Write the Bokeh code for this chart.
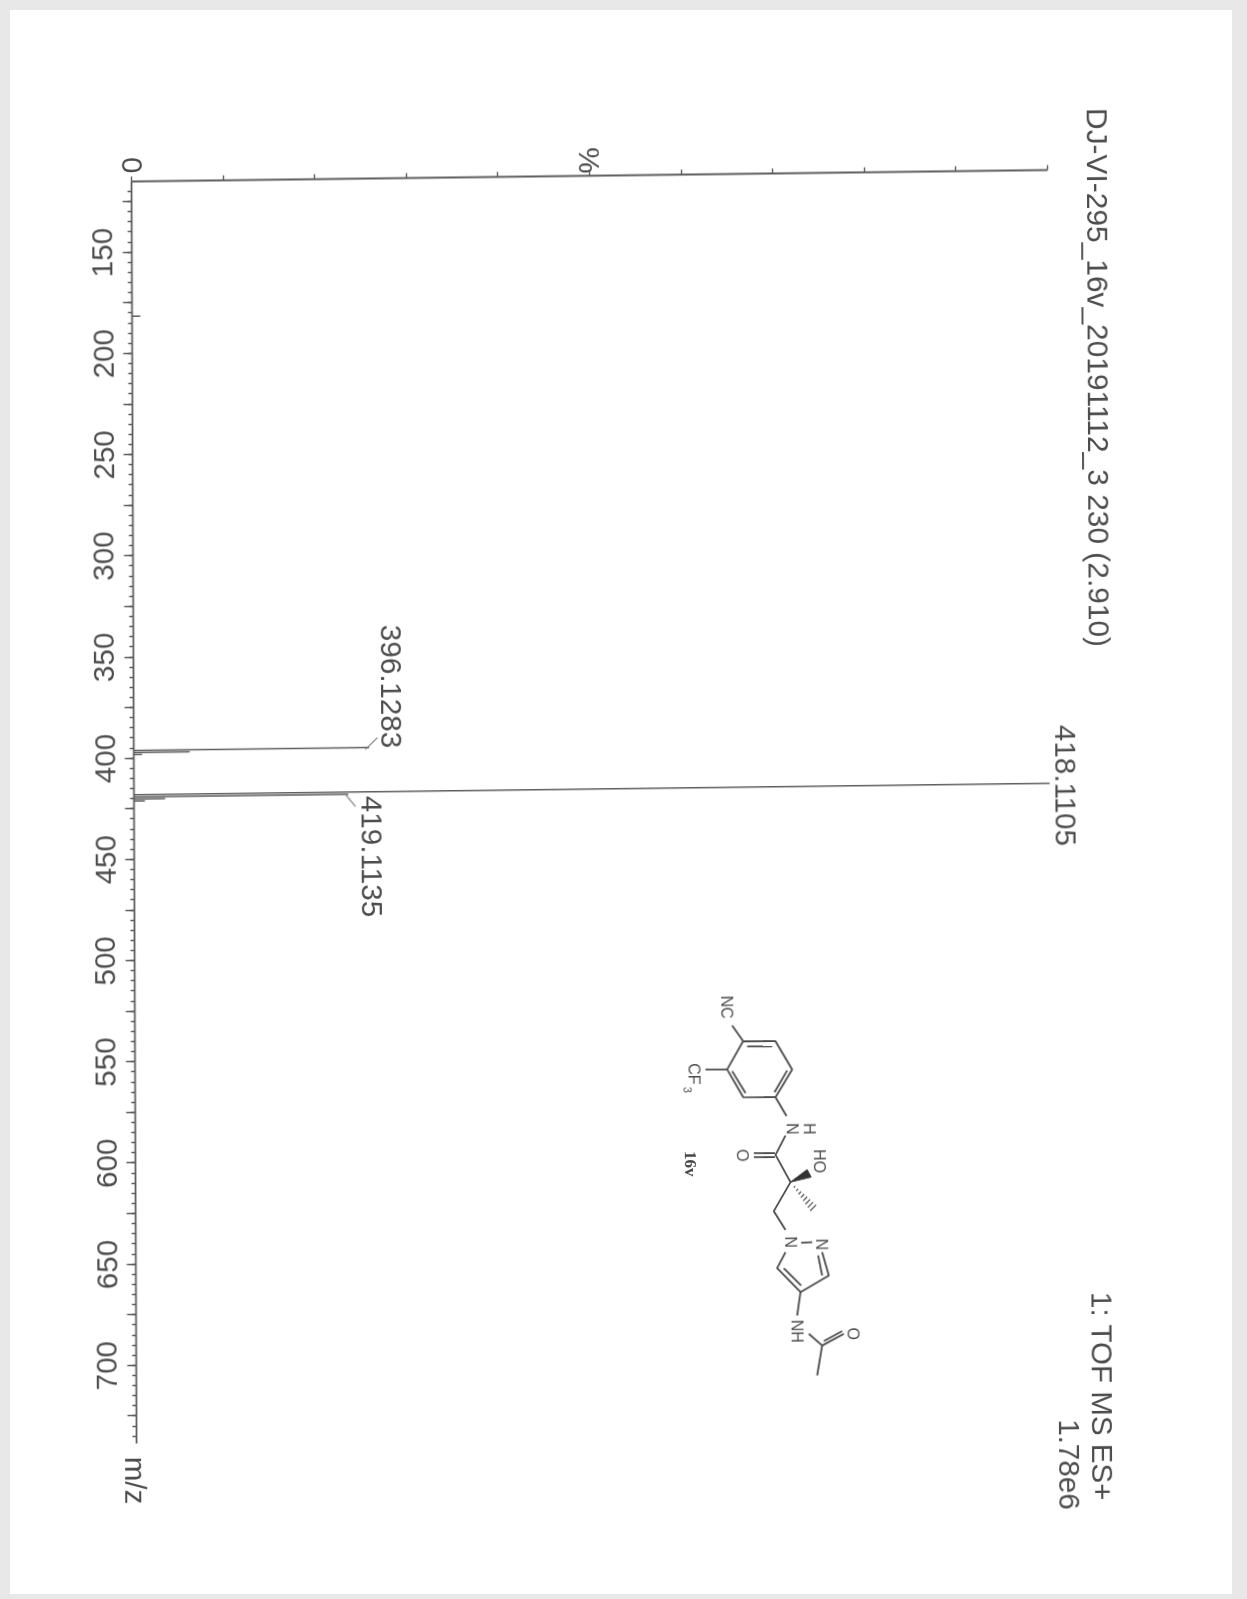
from math import pi
from bokeh.plotting import figure
from bokeh.models import Range1d, FixedTicker
from bokeh.core.properties import value
from bokeh.embed import file_html
from bokeh.resources import INLINE

# ---- data ----
peak_mz = [181.6, 396.1283, 397.13, 398.13, 418.1105, 419.1135, 420.12, 421.12]
peak_pct = [0.9, 25.7, 6.1, 0.9, 100.0, 23.4, 3.4, 1.2]
mz_ticks = list(range(125, 726, 25))
mz_minor = list(range(120, 736, 5))
mz_labels = list(range(150, 701, 50))
pct_ticks = list(range(0, 101, 10))
pct_labels = {0: "0"}
title_text = "DJ-VI-295_16v_20191112_3 230 (2.910)"
scan_text = "1: TOF MS ES+"
tic_text = "1.78e6"
peak_texts = ["396.1283", "418.1105", "419.1135"]
mz_min, mz_max = 115.05, 738.6

# ---- styling ----
INK = "#4c4c4c"
LINE = "#5e5e5e"
FONT = "Liberation Sans"
SIZE = "29.6px"
OX, OY = 131.0, 181.0      # axis corner on the page
SX, SY = 0.004, -0.0125    # skew of the scanned page
FW, FH = 916, 1262


def px(X, Y):
    dx, dy = X - OX, Y - OY
    det = 1 - SX * SY
    return (dx - SX * dy) / det, (dy - SY * dx) / det


p = figure(frame_width=FW, frame_height=FH, output_backend="svg", toolbar_location=None,
           x_range=Range1d(0, 100), y_range=Range1d(mz_max, mz_min),
           x_axis_location="above", y_axis_location="left",
           min_border_left=int(OX), min_border_right=193, min_border_top=int(OY), min_border_bottom=152,
           background_fill_color=None, border_fill_color=None, outline_line_color=None)
p.grid.visible = False
p.extra_x_ranges = {"px": Range1d(0, FW)}
p.extra_y_ranges = {"px": Range1d(FH, 0)}
p.styles = {"transform": f"matrix(1,{SY},{SX},1,0,0)",
            "transform-origin": f"{OX}px {OY}px",
            "filter": "blur(0.7px)"}

ya = p.yaxis[0]
ya.ticker = FixedTicker(ticks=mz_ticks, minor_ticks=mz_minor)
ya.major_label_overrides = {t: (str(t) if t in mz_labels else "") for t in mz_ticks}
ya.major_label_orientation = "vertical"
ya.major_tick_out, ya.major_tick_in = 9, 0
ya.minor_tick_out, ya.minor_tick_in = 4, 0
ya.major_label_standoff = 10

xa = p.xaxis[0]
xa.ticker = FixedTicker(ticks=pct_ticks, minor_ticks=[])
xa.major_label_overrides = {t: pct_labels.get(t, "") for t in pct_ticks}
xa.major_label_orientation = "vertical"
xa.major_tick_out, xa.major_tick_in = 5, 0
xa.major_label_standoff = 3

for a in (xa, ya):
    a.axis_line_color = LINE
    a.axis_line_width = 1.8
    a.major_tick_line_color = LINE
    a.major_tick_line_width = 1.4
    a.minor_tick_line_color = LINE
    a.minor_tick_line_width = 1.3
    a.major_label_text_font = FONT
    a.major_label_text_font_size = SIZE
    a.major_label_text_color = INK

# ---- spectrum ----
p.segment(x0=[0] * len(peak_mz), x1=peak_pct, y0=peak_mz, y1=peak_mz,
          line_color=LINE, line_width=1.5)


def texts(items, size=SIZE, color=INK, font=FONT, style="normal"):
    xs, ys, ss = [], [], []
    for X, Y, s in items:
        u, v = px(X, Y)
        xs.append(u); ys.append(v); ss.append(s)
    p.text(x=xs, y=ys, text=ss, angle=-pi / 2, text_align="center", text_baseline="middle",
           text_font=value(font), text_font_size=size, text_color=color, text_font_style=style,
           x_range_name="px", y_range_name="px", level="overlay")


def lines(items, color=LINE, width=1.3):
    xs, ys = [], []
    for seg in items:
        pts = [px(*q) for q in seg]
        xs.append([q[0] for q in pts]); ys.append([q[1] for q in pts])
    p.multi_line(xs=xs, ys=ys, line_color=color, line_width=width,
                 x_range_name="px", y_range_name="px", level="overlay")


# ---- headers and peak labels ----
texts([(1098, 377, title_text)], size="29.9px")
texts([(1102, 1396, scan_text), (1069, 1464, tic_text),
       (135, 1480, "m/z"), (589, 160, "%"),
       (391, 686, peak_texts[0]), (1065, 785, peak_texts[1]), (371, 856, peak_texts[2])])
lines([[(365, 749), (377, 737)], [(345, 794), (355, 806)]], color="#808080", width=1.2)


# ---- structure drawing, traced from the page (crop origin 680, 970, scale 3) ----
def z(x, y):
    return 680 + x / 3, 970 + y / 3


bonds = [
    [(188, 212), (285, 212), (335, 297), (285, 380), (188, 380), (140, 297), (188, 212)],
    [(200, 228), (275, 228)], [(320, 300), (282, 365)], [(155, 302), (195, 368)],
    [(188, 212), (155, 165)], [(140, 297), (75, 297)], [(285, 380), (318, 437)],
    [(315, 495), (285, 553), (330, 635), (280, 722), (315, 778)],
    [(283, 548), (220, 548)], [(283, 560), (220, 560)],
    [(315, 845), (290, 893), (360, 965), (445, 915), (425, 845)],
    [(310, 893), (362, 945)], [(425, 915), (413, 855)], [(362, 817), (395, 815)],
    [(360, 965), (350, 1035)], [(385, 1090), (425, 1125), (490, 1090)],
    [(430, 1112), (485, 1082)], [(425, 1125), (410, 1215)],
]
lines([[z(*q) for q in seg] for seg in bonds], color="#4a4a4a", width=1.8)

hash_marks = [((342 + 8 * i, 649 + 9 * i), 2 + i) for i in range(8)]
lines([[z(c[0] - w, c[1] + w), z(c[0] + w, c[1] - w)] for c, w in hash_marks], color="#4a4a4a", width=1.2)

wedge = [px(*z(330, 635)), px(*z(380, 598)), px(*z(392, 620))]
p.patch(x=[q[0] for q in wedge], y=[q[1] for q in wedge], fill_color="#333333", line_color="#333333",
        x_range_name="px", y_range_name="px", level="overlay")

texts([(*z(140, 110), "NC"), (*z(40, 310), "CF"),
       (*z(335, 475), "N"), (*z(385, 475), "H"), (*z(185, 555), "O"),
       (*z(418, 572), "HO"), (*z(330, 815), "N"), (*z(425, 822), "N"),
       (*z(350, 1082), "NH"), (*z(518, 1090), "O")], size="16px", color="#4a4a4a")
texts([(*z(22, 358), "3")], size="11px", color="#4a4a4a")
texts([(*z(30, 580), "16v")], size="17px", color="#444444", font="Liberation Serif", style="bold")

html = file_html(p, INLINE)
frame_css = ("<style>html{background:#fff}body::before{content:'';position:fixed;inset:0;"
             "border:solid #e8e8e8;border-width:10px 15px 5px 10px;pointer-events:none}</style>")
open("out.html", "w").write(html.replace("</head>", frame_css + "</head>", 1))
